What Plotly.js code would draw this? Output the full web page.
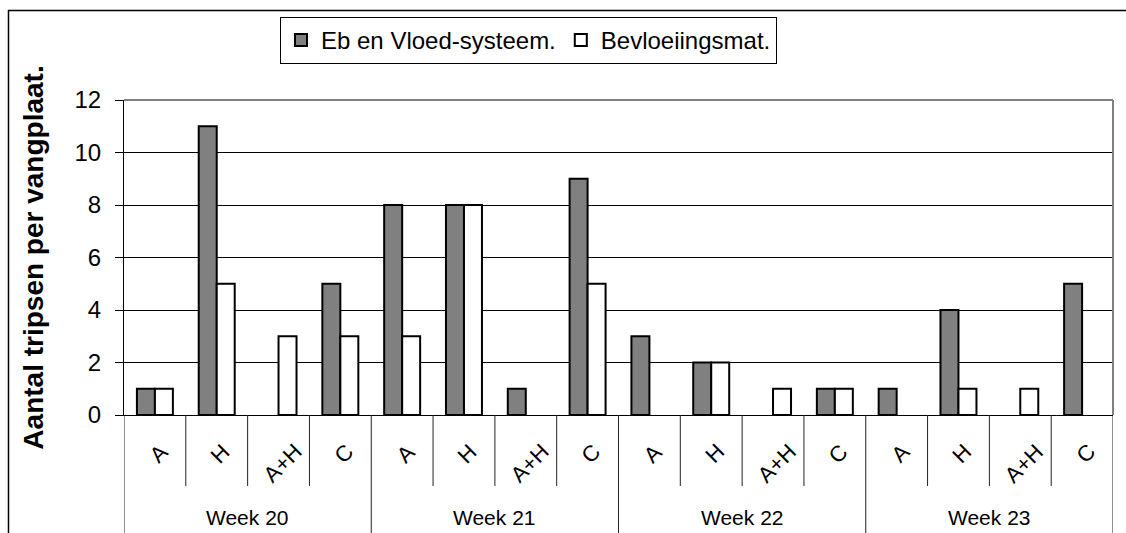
<!DOCTYPE html>
<html>
<head>
<meta charset="utf-8">
<script src="https://cdn.plot.ly/plotly-3.0.1.min.js"></script>
<style>html,body{margin:0;padding:0;background:#fff;}#chart{width:1126px;height:533px;}</style>
</head>
<body>
<div id="chart"></div>
<script>
// ---- data ----
const weeks = ['Week 20', 'Week 21', 'Week 22', 'Week 23'];
const cats = ['A', 'H', 'A+H', 'C'];
const seriesNames = ['Eb en Vloed-systeem.', 'Bevloeiingsmat.'];
const ebVloed = [1, 11, 0, 5, 8, 8, 1, 9, 3, 2, 0, 1, 1, 4, 0, 5];
const bevloeiing = [1, 5, 3, 3, 3, 8, 0, 5, 0, 2, 1, 1, 0, 1, 1, 0];
const yTitle = 'Aantal tripsen per vangplaat.';

// ---- layout geometry (pixels) ----
const W = 1126, H = 533;
const L = 124, R = 1113, T = 100, B = 415;
const pw = R - L, ph = B - T;
const px2x = p => (p - L) / pw;
const py2y = p => (B - p) / ph;
const FONT = 'Liberation Sans, Arial, sans-serif';
const CAT_SIZE = 22;

const nCat = weeks.length * cats.length;
const xIdx = [];
for (let w = 0; w < weeks.length; w++) for (let c = 0; c < cats.length; c++) xIdx.push(w * cats.length + c);

// zero-height bars are not drawn in the original (no outline at the baseline)
const hideZero = v => (v === 0 ? null : v);

const traces = [
  {type: 'bar', name: seriesNames[0], x: xIdx, y: ebVloed.map(hideZero),
   marker: {color: '#808080', line: {color: '#000', width: 2}}, hoverinfo: 'skip'},
  {type: 'bar', name: seriesNames[1], x: xIdx, y: bevloeiing.map(hideZero),
   marker: {color: '#ffffff', line: {color: '#000', width: 2}}, hoverinfo: 'skip'}
];

const shapes = [];
const annotations = [];
// category dividers
for (let i = 0; i <= nCat; i++) {
  const isWeek = (i % cats.length === 0);
  shapes.push({type: 'line', xref: 'x', yref: 'paper', x0: i - 0.5, x1: i - 0.5,
    y0: 0, y1: isWeek ? py2y(540) : py2y(486), line: {color: '#222', width: 1}, layer: 'above'});
}
// rotated category labels: top end aligned just below the axis
const cvs = document.createElement('canvas').getContext('2d');
cvs.font = CAT_SIZE + 'px "Liberation Sans", Arial, sans-serif';
const catW = pw / nCat;
xIdx.forEach((xi, k) => {
  const label = cats[k % cats.length];
  const tw = cvs.measureText(label).width;
  const h = tw / 2 * Math.SQRT1_2;
  const cx = L + (xi + 0.5) * catW + 3.5;
  const cy = 448 + h;
  annotations.push({xref: 'paper', yref: 'paper', x: px2x(cx), y: py2y(cy), text: label,
    showarrow: false, textangle: -45, xanchor: 'center', yanchor: 'middle',
    font: {family: FONT, size: CAT_SIZE, color: '#000'}});
});
// week labels
weeks.forEach((wk, w) => {
  annotations.push({xref: 'x', yref: 'paper', x: w * cats.length + (cats.length - 1) / 2, y: py2y(517),
    text: wk, showarrow: false, xanchor: 'center', yanchor: 'middle',
    font: {family: FONT, size: 21, color: '#000'}});
});
// plot-area border (top, right) in grey
shapes.push({type: 'line', xref: 'paper', yref: 'paper', x0: 0, x1: 1, y0: 1, y1: 1, line: {color: '#808080', width: 2}, layer: 'above'});
shapes.push({type: 'line', xref: 'paper', yref: 'paper', x0: 1, x1: 1, y0: 0, y1: 1, line: {color: '#808080', width: 2}, layer: 'above'});
// outer chart border
shapes.push({type: 'rect', xref: 'paper', yref: 'paper', x0: px2x(8.5), x1: px2x(1140), y0: py2y(10.5), y1: py2y(560),
  line: {color: '#000', width: 1.5}, fillcolor: 'rgba(0,0,0,0)', layer: 'below'});

const layout = {
  width: W, height: H,
  margin: {l: L, r: W - R, t: T, b: H - B, pad: 0},
  paper_bgcolor: '#fff', plot_bgcolor: '#fff',
  font: {family: FONT, color: '#000'},
  barmode: 'group', bargap: 0.418, bargroupgap: 0,
  showlegend: true,
  legend: {orientation: 'h', x: px2x(280), y: py2y(17), xanchor: 'left', yanchor: 'top',
    bordercolor: '#000', borderwidth: 1, bgcolor: '#fff',
    font: {family: FONT, size: 24, color: '#000'}, itemclick: false},
  xaxis: {range: [-0.5, nCat - 0.5], showticklabels: false, ticks: '', showgrid: false, zeroline: false,
    showline: true, linecolor: '#000', linewidth: 1, fixedrange: true},
  yaxis: {range: [0, 12], dtick: 2, tick0: 0, ticks: 'outside', ticklen: 8, tickcolor: '#000', tickwidth: 1,
    ticklabelstandoff: 9,
    showgrid: true, gridcolor: '#000', gridwidth: 1, zeroline: false,
    showline: true, linecolor: '#000', linewidth: 1,
    tickfont: {family: FONT, size: 24, color: '#000'},
    title: {text: yTitle, font: {family: FONT, size: 28, color: '#000', weight: 'bold'}, standoff: 22},
    fixedrange: true},
  shapes: shapes,
  annotations: annotations
};

Plotly.newPlot('chart', traces, layout, {displayModeBar: false, staticPlot: true});
</script>
</body>
</html>
